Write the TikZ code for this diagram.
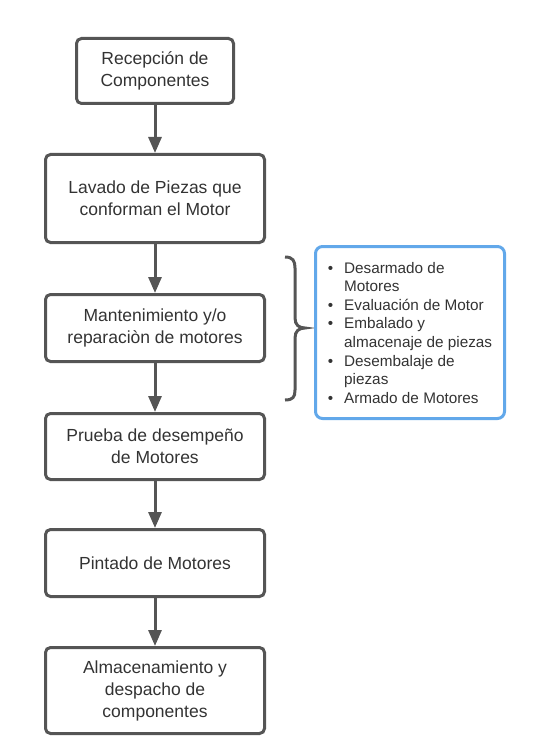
\documentclass[tikz,border=0pt]{standalone}
\usepackage{fontspec}
\setmainfont{Liberation Sans}
\usetikzlibrary{arrows.meta}

\begin{document}
\begin{tikzpicture}[x=1pt, y=-1pt,
  paso/.style={draw=linecolor, line width=3pt, rounded corners=5pt, minimum width=219pt,
    text=textcolor, align=center, font=\fontsize{17.5}{22}\selectfont, inner sep=0pt},
  flecha/.style={draw=linecolor, line width=3pt, -{Triangle[length=16pt, width=13pt]}},
  tareas/.style={draw=bluebox, line width=3pt, rounded corners=7pt, minimum width=189pt,
    minimum height=172pt, text=textcolor, font=\fontsize{15.3}{18.6}\selectfont, inner sep=0pt}]
  % Define colors
  \definecolor{linecolor}{RGB}{85, 85, 85}
  \definecolor{textcolor}{RGB}{51, 51, 51}
  \definecolor{bluebox}{RGB}{98, 168, 234}

  \useasboundingbox (0,0) rectangle (550,743);

  % Process steps
  \node[paso, minimum width=157pt, minimum height=65pt] (recepcion) at (155,71) {Recepción de\\Componentes};
  \node[paso, minimum height=88pt] (lavado) at (155,198.5) {Lavado de Piezas que\\conforman el Motor};
  \node[paso, minimum height=67pt] (mantenimiento) at (155,328) {Mantenimiento y/o\\reparaciòn de motores};
  \node[paso, minimum height=66pt] (prueba) at (155,446.5) {Prueba de desempeño\\de Motores};
  \node[paso, minimum height=67pt] (pintado) at (155,563) {Pintado de Motores};
  \node[paso, minimum height=86pt] (almacenamiento) at (155,690.5) {Almacenamiento y\\despacho de\\componentes};

  % Arrows between steps
  \draw[flecha] (recepcion) -- (lavado);
  \draw[flecha] (lavado) -- (mantenimiento);
  \draw[flecha] (mantenimiento) -- (prueba);
  \draw[flecha] (prueba) -- (pintado);
  \draw[flecha] (pintado) -- (almacenamiento);

  % Brace
  \draw[linecolor, line width=3pt] (285,257) .. controls (293,257) and (295,261) .. (295,268)
    -- (295,318) .. controls (295,325) and (299,328) .. (305,328)
    .. controls (299,328) and (295,331) .. (295,338)
    -- (295,390) .. controls (295,397) and (293,400) .. (285,400);

  % Sub-tasks
  \node[tareas] (subprocesos) at (410,332.5) {%
    \raisebox{-2pt}[\height][\depth]{%
    \begin{tabular}{@{}l@{\hspace{11pt}}l@{}}
      \textbullet & Desarmado de\\
                  & Motores\\
      \textbullet & Evaluación de Motor\\
      \textbullet & Embalado y\\
                  & almacenaje de piezas\\
      \textbullet & Desembalaje de\\
                  & piezas\\
      \textbullet & Armado de Motores
    \end{tabular}}};
\end{tikzpicture}
\end{document}
